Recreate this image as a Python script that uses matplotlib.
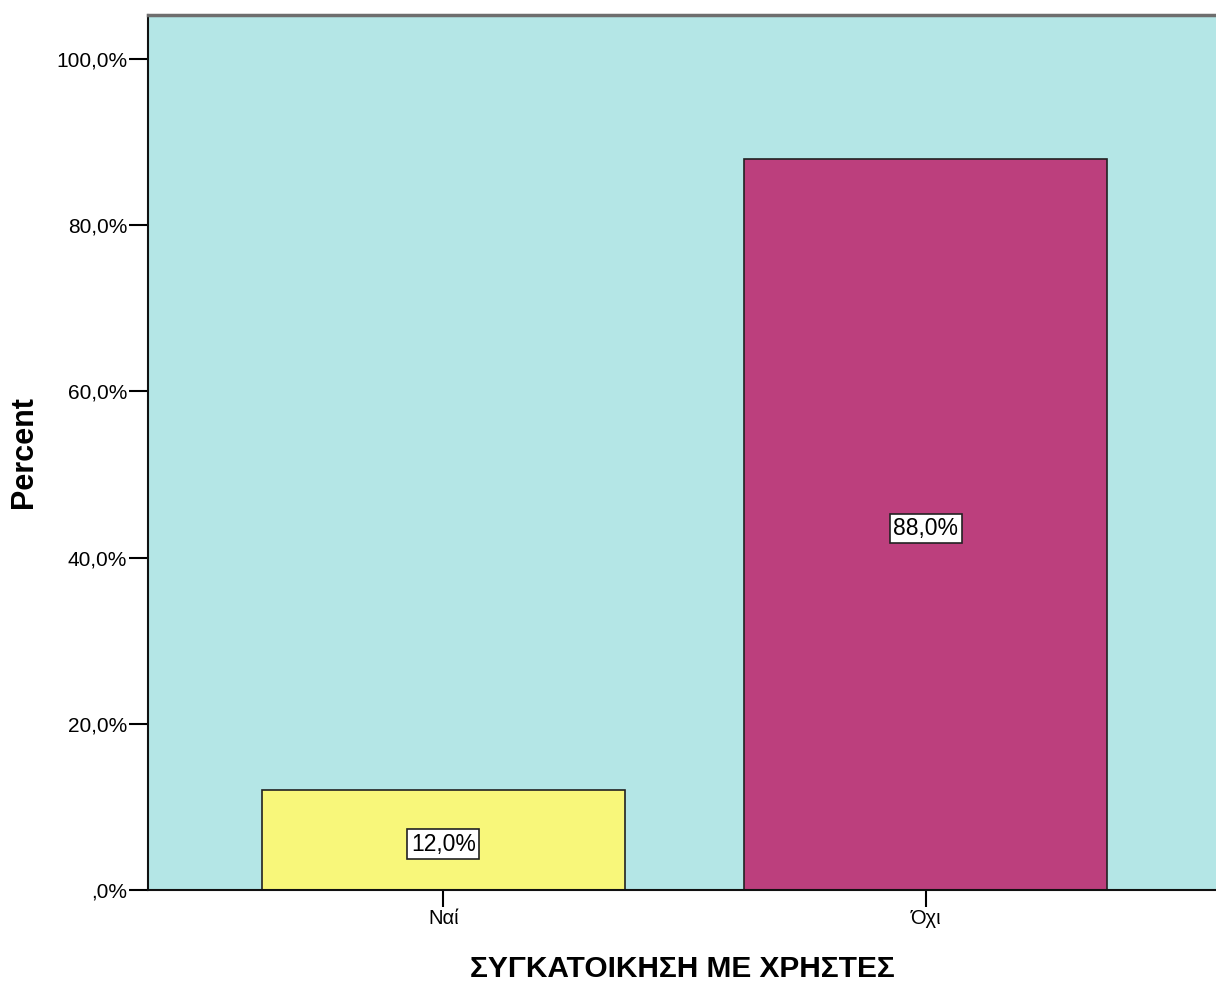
import matplotlib
matplotlib.use("Agg")
import matplotlib.pyplot as plt
from matplotlib.ticker import FuncFormatter

categories = ["Ναί", "Όχι"]
percents = [12.0, 88.0]
bar_colors = ["#F8F77A", "#BC3F7D"]
yticks = [0, 20, 40, 60, 80, 100]

plt.rcParams['font.family'] = ['Liberation Sans', 'DejaVu Sans']

fig = plt.figure(figsize=(12.16, 9.81), dpi=100)
ax = fig.add_axes([148/1216, 91/981, 1 - 148/1216, (890-15)/981])
ax.set_facecolor("#B4E6E6")

x = list(range(len(categories)))
bars = ax.bar(x, percents, width=0.752, color=bar_colors, edgecolor="#222222", linewidth=1.2, zorder=2)
for xi, v in zip(x, percents):
    ax.text(xi, v / 2 - 0.5, f"{v:.1f}%".replace(".", ","), ha="center", va="center", fontsize=16.5,
            bbox=dict(boxstyle="square,pad=0.15", facecolor="white", edgecolor="#222222", linewidth=1.2), zorder=3)

ax.set_xlim(-0.612, 1.601)
ax.set_ylim(0, 105.3)
ax.set_xticks(x)
ax.set_xticklabels(categories)
ax.set_yticks(yticks)

def fmt(v, pos):
    s = f"{v:.1f}%".replace(".", ",")
    if s.startswith("0,"):
        s = s[1:]
    return s
ax.yaxis.set_major_formatter(FuncFormatter(fmt))
ax.tick_params(axis="y", length=14, width=1.5, labelsize=15, pad=1)
ax.tick_params(axis="x", length=12, width=1.5, labelsize=14.5, pad=2)

ax.spines["left"].set_color("#111111")
ax.spines["left"].set_linewidth(1.5)
ax.spines["bottom"].set_color("#111111")
ax.spines["bottom"].set_linewidth(1.5)
ax.spines["top"].set_color("#6E6E6E")
ax.spines["top"].set_linewidth(2.5)
ax.spines["right"].set_visible(False)

ax.set_ylabel("Percent", fontsize=22, fontweight="bold", labelpad=12)
ax.set_xlabel("ΣΥΓΚΑΤΟΙΚΗΣΗ ΜΕ ΧΡΗΣΤΕΣ", fontsize=21.5, fontweight="bold", labelpad=19)

fig.savefig("out.png", dpi=100)
